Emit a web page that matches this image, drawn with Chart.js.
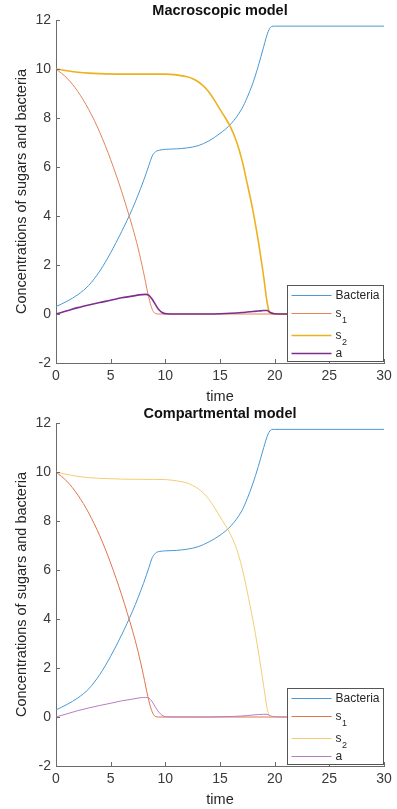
<!DOCTYPE html>
<html>
<head>
<meta charset="utf-8">
<script src="https://cdn.jsdelivr.net/npm/chart.js@4.4.1/dist/chart.umd.min.js"></script>
<style>
  html, body { margin: 0; padding: 0; background: #fff; overflow: hidden; }
  .panel { position: absolute; left: 0; width: 397px; height: 406px; }
</style>
</head>
<body>
<div class="panel" style="top:0"><canvas id="macro" width="397" height="406"></canvas></div>
<div class="panel" style="top:403px"><canvas id="comp" width="397" height="406"></canvas></div>
<script>
// axis ticks
const xTickValues = [0, 5, 10, 15, 20, 25, 30];
const yTickValues = [-2, 0, 2, 4, 6, 8, 10, 12];
const seriesNames = ['Bacteria', 's_1', 's_2', 'a'];

// bacteria
const tBact = [0, 1, 2, 3, 4, 5, 6, 7, 8, 8.5, 8.8, 9.0, 9.2, 9.5, 10, 11, 12, 13, 14, 15, 16, 17, 17.5, 18, 18.5, 19, 19.4, 19.7, 20, 30];
const bactMacro = [0.3, 0.52, 0.79, 1.17, 1.75, 2.5, 3.36, 4.31, 5.43, 6.07, 6.45, 6.58, 6.65, 6.69, 6.72, 6.74, 6.78, 6.87, 7.07, 7.37, 7.76, 8.38, 8.85, 9.42, 10.12, 10.92, 11.52, 11.73, 11.75, 11.75];
const bactComp = [0.29, 0.51, 0.78, 1.15, 1.73, 2.48, 3.35, 4.32, 5.45, 6.1, 6.5, 6.64, 6.72, 6.76, 6.78, 6.8, 6.85, 6.95, 7.15, 7.42, 7.8, 8.42, 8.92, 9.52, 10.22, 11.0, 11.55, 11.73, 11.74, 11.74];

// sugar s1
const tS1 = [0, 1, 2, 3, 4, 5, 6, 6.5, 7, 7.5, 8, 8.4, 8.7, 8.9, 9.1, 9.4, 30];
const s1Macro = [10, 9.63, 9.08, 8.34, 7.42, 6.3, 5.01, 4.29, 3.54, 2.7, 1.72, 0.85, 0.32, 0.1, 0.02, 0, 0];
const s1Comp = [10, 9.62, 9.06, 8.32, 7.4, 6.28, 4.99, 4.27, 3.52, 2.68, 1.7, 0.84, 0.33, 0.11, 0.02, 0, 0];

// sugar s2
const tS2 = [0, 1, 2, 3, 4, 6, 8, 10, 11, 12, 12.5, 13, 13.5, 14, 14.5, 15, 15.5, 16, 16.5, 17, 17.5, 18, 18.5, 19, 19.3, 19.5, 19.8, 30];
const s2Macro = [10, 9.93, 9.87, 9.83, 9.81, 9.79, 9.79, 9.79, 9.76, 9.68, 9.6, 9.48, 9.3, 9.05, 8.72, 8.35, 8.0, 7.6, 7.05, 6.3, 5.3, 4.25, 2.98, 1.5, 0.5, 0.1, 0, 0];
const s2Comp = [10, 9.9, 9.82, 9.77, 9.74, 9.71, 9.7, 9.69, 9.64, 9.55, 9.45, 9.32, 9.13, 8.88, 8.55, 8.18, 7.82, 7.42, 6.88, 6.12, 5.1, 3.98, 2.7, 1.25, 0.38, 0.07, 0, 0];

// a
const tA = [0, 1, 2, 3, 4, 5, 6, 7, 7.6, 8.2, 8.5, 8.8, 9.1, 9.4, 9.7, 10.1, 11, 12, 13, 14, 15, 16, 17, 17.5, 18, 18.5, 19, 19.3, 19.6, 20, 21, 30];
const aMacro = [0, 0.13, 0.26, 0.37, 0.47, 0.56, 0.66, 0.73, 0.78, 0.8, 0.76, 0.6, 0.38, 0.18, 0.06, 0.01, 0, 0, 0, 0, 0.01, 0.03, 0.06, 0.08, 0.1, 0.12, 0.14, 0.14, 0.06, 0.01, 0, 0];
const aComp = [0, 0.13, 0.26, 0.37, 0.47, 0.56, 0.66, 0.73, 0.78, 0.8, 0.77, 0.62, 0.4, 0.2, 0.07, 0.01, 0, 0, 0, 0, 0.01, 0.02, 0.04, 0.06, 0.08, 0.1, 0.11, 0.11, 0.05, 0.01, 0, 0];

const FONT = "'Liberation Sans', Arial, Helvetica, sans-serif";
const axisColor = '#6b6b6b';
const labelColor = '#3a3a3a';

function pts(ts, vs) {
  return ts.map((t, i) => ({ x: t, y: vs[i] }));
}

// inward ticks (matlab style) and the boxed legend in the lower right
const matlabDecor = {
  id: 'matlabDecor',
  afterDatasetsDraw(chart) {
    const { ctx, chartArea: a, scales: { x, y } } = chart;
    ctx.save();
    ctx.strokeStyle = axisColor;
    ctx.lineWidth = 1;
    ctx.beginPath();
    x.ticks.forEach(t => {
      const px = Math.round(x.getPixelForValue(t.value)) + 0.5;
      ctx.moveTo(px, a.bottom);
      ctx.lineTo(px, a.bottom - 4);
    });
    y.ticks.forEach(t => {
      const py = Math.round(y.getPixelForValue(t.value)) + 0.5;
      ctx.moveTo(a.left, py);
      ctx.lineTo(a.left + 4, py);
    });
    ctx.stroke();

    // legend
    const bx = Math.round(a.right) - 96.5, by = Math.round(a.bottom) - 77.5;
    const bw = 96, bh = 76;
    ctx.fillStyle = '#fff';
    ctx.fillRect(bx, by, bw, bh);
    ctx.strokeStyle = '#555';
    ctx.strokeRect(bx, by, bw, bh);
    const rows = [10, 28, 50, 68];
    chart.data.datasets.forEach((ds, i) => {
      const ly = by + rows[i];
      ctx.strokeStyle = ds.borderColor;
      ctx.lineWidth = ds.borderWidth;
      ctx.beginPath();
      ctx.moveTo(bx + 4, ly);
      ctx.lineTo(bx + 44, ly);
      ctx.stroke();
      const parts = seriesNames[i].split('_');
      ctx.fillStyle = '#262626';
      ctx.textBaseline = 'middle';
      ctx.textAlign = 'left';
      ctx.font = '12px ' + FONT;
      ctx.fillText(parts[0], bx + 48, ly);
      if (parts[1]) {
        const w = ctx.measureText(parts[0]).width;
        ctx.font = '9px ' + FONT;
        ctx.fillText(parts[1], bx + 48 + w + 0.5, ly + 7);
      }
    });
    ctx.restore();
  }
};

function makeChart(id, title, data, styles) {
  const sets = data.map((d, i) => ({
    label: seriesNames[i],
    data: d,
    borderColor: styles[i].color,
    borderWidth: styles[i].width,
    pointRadius: 0,
    fill: false,
    cubicInterpolationMode: 'monotone',
    order: 3 - i
  }));
  return new Chart(document.getElementById(id), {
    type: 'line',
    data: { datasets: sets },
    plugins: [matlabDecor],
    options: {
      responsive: false,
      animation: false,
      events: [],
      layout: { padding: { left: 0, right: 13, top: 0, bottom: 0 } },
      plugins: {
        legend: { display: false },
        tooltip: { enabled: false },
        title: {
          display: true,
          text: title,
          fullSize: false,
          color: '#111',
          font: { family: FONT, size: 14.5, weight: 'bold', lineHeight: 1.2 },
          padding: { top: 2, bottom: 0.6 }
        }
      },
      scales: {
        x: {
          type: 'linear',
          min: 0, max: 30,
          afterBuildTicks: s => { s.ticks = xTickValues.map(v => ({ value: v })); },
          afterFit: s => { s.height = 43; },
          grid: { display: false, drawTicks: false },
          border: { display: true, color: axisColor, width: 1 },
          ticks: { color: labelColor, padding: 5, maxRotation: 0, font: { family: FONT, size: 14 } },
          title: {
            display: true, text: 'time', color: '#262626',
            font: { family: FONT, size: 14.5, lineHeight: 1.2 },
            padding: { top: 0, bottom: 0 }
          }
        },
        y: {
          type: 'linear',
          min: -2, max: 12,
          afterBuildTicks: s => { s.ticks = yTickValues.map(v => ({ value: v })); },
          afterFit: s => { s.width = 56; },
          grid: { display: false, drawTicks: false },
          border: { display: true, color: axisColor, width: 1 },
          ticks: { color: labelColor, padding: 5, font: { family: FONT, size: 14 } },
          title: {
            display: true, text: 'Concentrations of sugars and bacteria', color: '#262626',
            font: { family: FONT, size: 14.5, lineHeight: 1.2 },
            padding: { top: 13, bottom: 0 }
          }
        }
      }
    }
  });
}

makeChart('macro', 'Macroscopic model',
  [pts(tBact, bactMacro), pts(tS1, s1Macro), pts(tS2, s2Macro), pts(tA, aMacro)],
  [
    { color: '#4a98d4', width: 1 },
    { color: '#e5825a', width: 1 },
    { color: '#edb120', width: 1.6 },
    { color: '#7e2f8e', width: 1.6 }
  ]);

makeChart('comp', 'Compartmental model',
  [pts(tBact, bactComp), pts(tS1, s1Comp), pts(tS2, s2Comp), pts(tA, aComp)],
  [
    { color: '#4a98d4', width: 1 },
    { color: '#e0744a', width: 1 },
    { color: '#f2cd74', width: 1 },
    { color: '#b57ec2', width: 1 }
  ]);
</script>
</body>
</html>
